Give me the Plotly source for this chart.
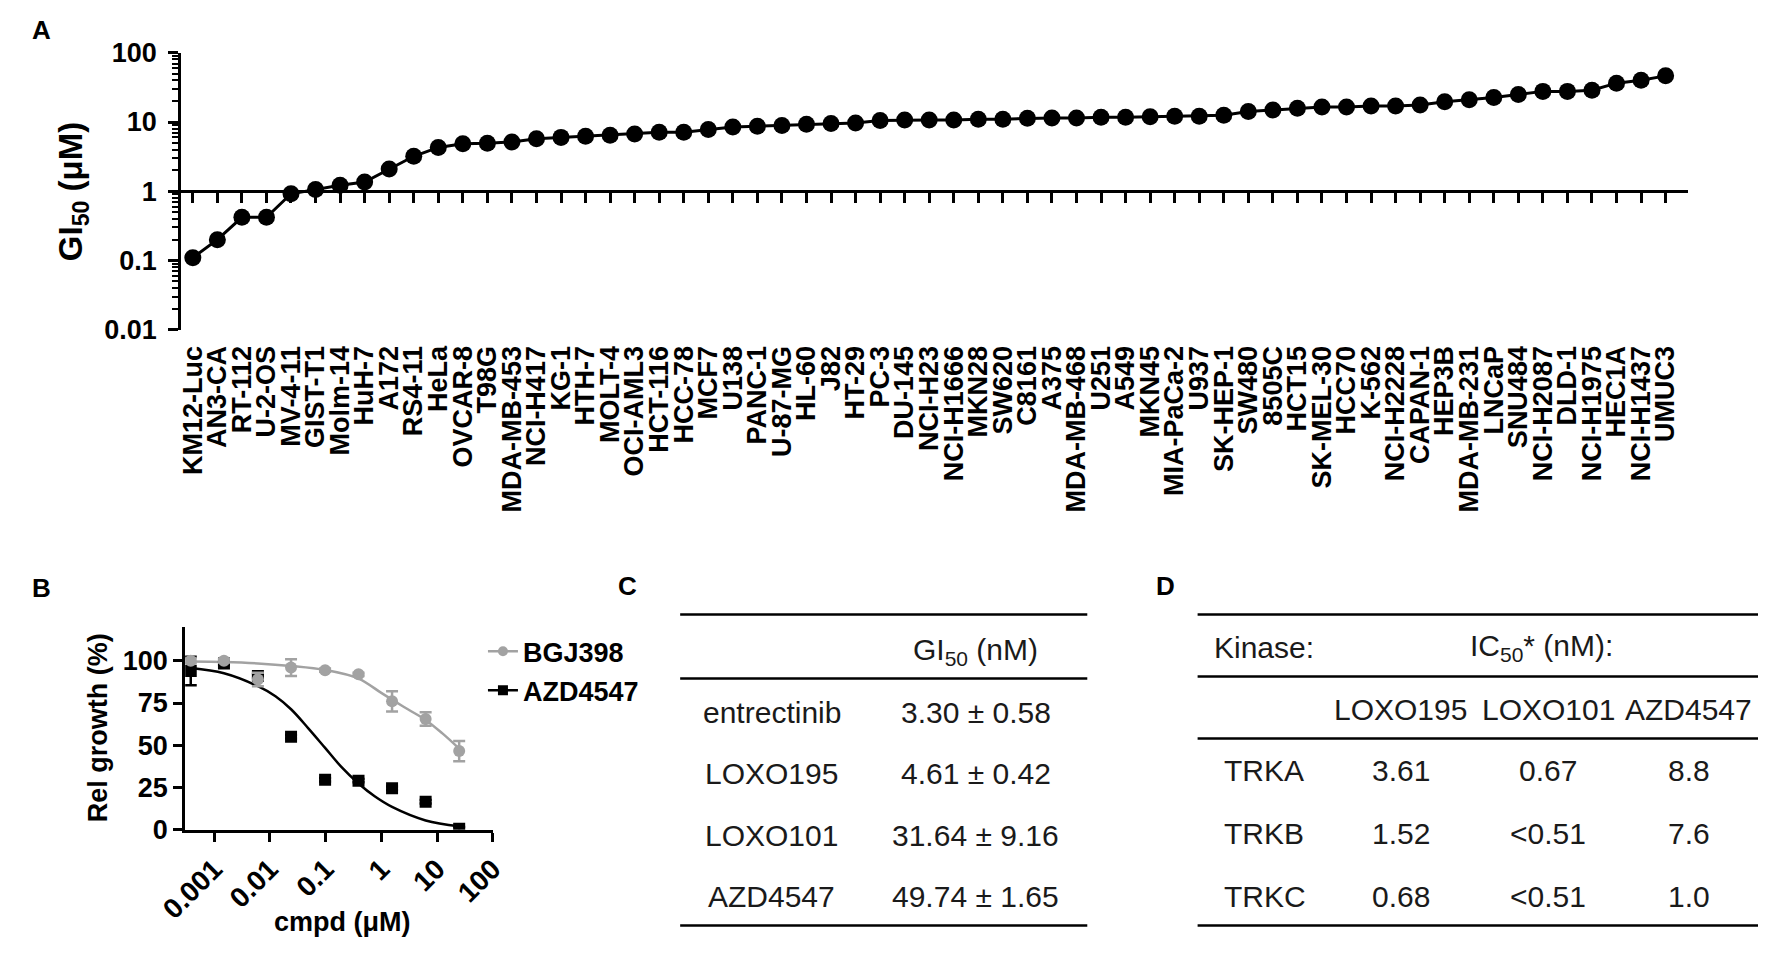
import plotly.graph_objects as go

W, H = 1772, 954

# ---------------- Panel A data ----------------
cell_lines = ["KM12-Luc", "AN3-CA", "RT-112", "U-2-OS", "MV-4-11", "GIST-T1", "Molm-14", "HuH-7",
              "A172", "RS4-11", "HeLa", "OVCAR-8", "T98G", "MDA-MB-453", "NCI-H417", "KG-1",
              "HTH-7", "MOLT-4", "OCI-AML3", "HCT-116", "HCC-78", "MCF7", "U138", "PANC-1",
              "U-87-MG", "HL-60", "J82", "HT-29", "PC-3", "DU-145", "NCI-H23", "NCI-H1666",
              "MKN28", "SW620", "C8161", "A375", "MDA-MB-468", "U251", "A549", "MKN45",
              "MIA-PaCa-2", "U937", "SK-HEP-1", "SW480", "8505C", "HCT15", "SK-MEL-30", "HCC70",
              "K-562", "NCI-H2228", "CAPAN-1", "HEP3B", "MDA-MB-231", "LNCaP", "SNU484",
              "NCI-H2087", "DLD-1", "NCI-H1975", "HEC1A", "NCI-H1437", "UMUC3"]
gi50_uM = [0.11, 0.20, 0.42, 0.42, 0.92, 1.06, 1.22, 1.36, 2.1, 3.2, 4.3, 4.85, 4.95, 5.15,
           5.75, 6.0, 6.25, 6.45, 6.7, 7.1, 7.1, 7.8, 8.5, 8.7, 8.9, 9.3, 9.5, 9.7, 10.5, 10.7,
           10.7, 10.7, 11.0, 11.0, 11.3, 11.4, 11.4, 11.7, 11.7, 11.9, 12.1, 12.1, 12.5, 14.2,
           14.9, 15.8, 16.5, 16.5, 17.1, 17.1, 17.6, 19.6, 21.0, 22.6, 24.9, 27.7, 27.7, 28.7,
           36.4, 40.2, 46.4]
a_ytickvals = [0.01, 0.1, 1, 10, 100]
a_yticktext = ["0.01", "0.1", "1", "10", "100"]

# ---------------- Panel B data ----------------
dose_uM = [0.00038, 0.0015, 0.0061, 0.024, 0.098, 0.39, 1.56, 6.25, 25]
bgj398_pct = [100, 100, 89, 96, 94.5, 92, 76, 65.5, 46.5]
bgj398_sem = [1.5, 1.0, 4.0, 5.0, 1.0, 1.0, 6.0, 4.0, 6.0]
azd4547_pct = [94, 98.5, 91, 55, 29.5, 29, 24.5, 16.5, 0.5]
azd4547_sem = [8.5, 1.0, 1.0, 1.0, 1.0, 1.0, 1.0, 1.0, 1.0]
bgj398_fit_dose = [0.00038, 0.0015, 0.0061, 0.024, 0.098, 0.39, 1.0, 1.56, 3.1, 6.25, 12.5, 25]
bgj398_fit_pct = [99.6, 99.3, 98.5, 97.0, 94.6, 89.5, 81.0, 77.0, 71.0, 65.0, 57.0, 48.0]
azd4547_fit_dose = [0.00038, 0.0015, 0.0061, 0.0126, 0.024, 0.049, 0.098, 0.19, 0.39, 0.76,
                    1.56, 6.25, 25]
azd4547_fit_pct = [95.8, 92.7, 85.0, 79.0, 71.3, 60.0, 48.4, 37.3, 27.3, 19.7, 13.4, 5.4, 1.9]
b_xtickvals = [0.001, 0.01, 0.1, 1, 10, 100]
b_xticktext = ["0.001", "0.01", "0.1", "1", "10", "100"]
b_ytickvals = [0, 25, 50, 75, 100]

# ---------------- Panel C data ----------------
c_compounds = ["entrectinib", "LOXO195", "LOXO101", "AZD4547"]
c_gi50_mean = [3.30, 4.61, 31.64, 49.74]
c_gi50_sem = [0.58, 0.42, 9.16, 1.65]

# ---------------- Panel D data ----------------
d_kinases = ["TRKA", "TRKB", "TRKC"]
d_compounds = ["LOXO195", "LOXO101", "AZD4547"]
d_loxo195 = ["3.61", "1.52", "0.68"]
d_loxo101 = ["0.67", "<0.51", "<0.51"]
d_azd4547 = ["8.8", "7.6", "1.0"]


def fx(p):
    return p / W


def fy(p):
    return 1 - p / H


FONT = "Liberation Sans, Arial, Helvetica, sans-serif"
GRAY = "#a2a2a2"
BOLD = dict(family=FONT, color="black", weight="bold")

fig = go.Figure()

# ---- Panel A ----
fig.add_trace(go.Scatter(x=cell_lines, y=gi50_uM, mode="lines+markers",
                         line=dict(color="black", width=3),
                         marker=dict(color="black", size=17),
                         showlegend=False, xaxis="x", yaxis="y"))

A_YRANGE = [-2, 2]
a_dom_y = [fy(325), fy(39)]
a_dom_x = [fx(157), fx(1700)]
a_x_pos = a_dom_y[0] + (0 - A_YRANGE[0]) / (A_YRANGE[1] - A_YRANGE[0]) * (a_dom_y[1] - a_dom_y[0])

# ---- Panel B ----
fig.add_trace(go.Scatter(x=azd4547_fit_dose, y=azd4547_fit_pct, mode="lines",
                         line=dict(color="black", width=2.5, shape="spline"),
                         showlegend=False, xaxis="x3", yaxis="y3"))
fig.add_trace(go.Scatter(x=bgj398_fit_dose, y=bgj398_fit_pct, mode="lines",
                         line=dict(color=GRAY, width=2.5, shape="spline"),
                         showlegend=False, xaxis="x3", yaxis="y3"))
fig.add_trace(go.Scatter(x=dose_uM, y=azd4547_pct, mode="markers",
                         marker=dict(color="black", size=12, symbol="square"),
                         error_y=dict(type="data", array=azd4547_sem, color="black",
                                      thickness=2.5, width=6),
                         showlegend=False, xaxis="x3", yaxis="y3"))
fig.add_trace(go.Scatter(x=dose_uM, y=bgj398_pct, mode="markers",
                         marker=dict(color=GRAY, size=12, symbol="circle"),
                         error_y=dict(type="data", array=bgj398_sem, color=GRAY,
                                      thickness=2.5, width=6),
                         showlegend=False, xaxis="x3", yaxis="y3"))
# legend entries
fig.add_trace(go.Scatter(x=[None], y=[None], mode="lines+markers", name="BGJ398",
                         line=dict(color=GRAY, width=2.5),
                         marker=dict(color=GRAY, size=10, symbol="circle"),
                         legendgroup="g1", xaxis="x3", yaxis="y3"))
fig.add_trace(go.Scatter(x=[None], y=[None], mode="lines+markers", name="AZD4547",
                         line=dict(color="black", width=2.5),
                         marker=dict(color="black", size=10, symbol="square"),
                         legendgroup="g2", xaxis="x3", yaxis="y3"))

b_dom_x = [fx(161), fx(476)]
b_dom_y = [fy(841), fy(632)]

fig.update_layout(
    width=W, height=H,
    margin=dict(l=0, r=0, t=0, b=0),
    paper_bgcolor="white", plot_bgcolor="white",
    font=dict(family=FONT, color="black"),
    xaxis=dict(domain=a_dom_x, anchor="free", position=a_x_pos, type="category",
               categoryorder="array", categoryarray=cell_lines,
               tickmode="array", tickvals=cell_lines, ticktext=cell_lines,
               range=[-0.47, 60.9], showline=True, linecolor="black", linewidth=3,
               ticks="outside", ticklen=10, tickwidth=3, tickcolor="black",
               tickangle=-90, tickfont=dict(size=27, **BOLD), ticklabelstandoff=132,
               showgrid=False, zeroline=False),
    yaxis=dict(domain=a_dom_y, anchor="x", type="log", range=A_YRANGE,
               tickmode="array", tickvals=a_ytickvals, ticktext=a_yticktext,
               showline=True, linecolor="black", linewidth=3,
               ticks="outside", ticklen=10, tickwidth=3, tickcolor="black",
               minor=dict(ticks="outside", ticklen=6, tickwidth=2, tickcolor="black",
                          dtick="D1", showgrid=False),
               ticklabelstandoff=6,
               tickfont=dict(size=27, **BOLD), showgrid=False, zeroline=False),
    xaxis3=dict(domain=b_dom_x, anchor="y3", type="log", range=[-3.52, 2.0],
                tickmode="array", tickvals=b_xtickvals, ticktext=b_xticktext,
                tickangle=-45, showline=True, linecolor="black", linewidth=3,
                ticks="outside", ticklen=9, tickwidth=3, tickcolor="black",
                tickfont=dict(size=28, **BOLD), showgrid=False, zeroline=False),
    yaxis3=dict(domain=b_dom_y, anchor="x3", range=[0, 120],
                tickmode="array", tickvals=b_ytickvals,
                showline=True, linecolor="black", linewidth=3,
                ticks="outside", ticklen=9, tickwidth=3, tickcolor="black",
                tickfont=dict(size=27, **BOLD), showgrid=False, zeroline=False),
    legend=dict(x=fx(466), y=fy(632), xanchor="left", yanchor="top",
                font=dict(size=27, **BOLD), tracegroupgap=1, itemwidth=30,
                bgcolor="rgba(0,0,0,0)"),
    showlegend=True,
)

ann = []


def txt(x, y, s, size, bold=False, xanchor="center", angle=0, color="black"):
    f = dict(family=FONT, size=size, color=color)
    if bold:
        f["weight"] = "bold"
    ann.append(dict(x=fx(x), y=fy(y), xref="paper", yref="paper", text=s, showarrow=False,
                    xanchor=xanchor, yanchor="middle", font=f, textangle=angle))


# panel letters
txt(2, 15, "A", 26, bold=True, xanchor="left")
txt(2, 592, "B", 26, bold=True, xanchor="left")
txt(602, 590, "C", 26, bold=True, xanchor="left")
txt(1153, 590, "D", 26, bold=True, xanchor="left")

# axis titles
txt(46, 182, "GI<sub>50</sub> (μM)", 33, bold=True, angle=-90)
txt(72, 736, "Rel growth (%)", 27, bold=True, angle=-90)
txt(322, 936, "cmpd (μM)", 27, bold=True)

shapes = []


def rule(x0, x1, y):
    shapes.append(dict(type="line", xref="paper", yref="paper", x0=fx(x0), x1=fx(x1),
                       y0=fy(y), y1=fy(y), line=dict(color="black", width=2.5)))


TCOL = "#1a1a1a"
TSIZE = 30

# ---- Table C ----
for yy in (619, 685, 940):
    rule(668, 1085, yy)
txt(971, 657, "GI<sub>50</sub> (nM)", TSIZE, color=TCOL)
c_row_y0, c_row_dy = 720, 63.5
for i, (name, m, s) in enumerate(zip(c_compounds, c_gi50_mean, c_gi50_sem)):
    y = c_row_y0 + i * c_row_dy
    txt(762, y, name, TSIZE, color=TCOL)
    txt(971, y, f"{m:.2f} ± {s:.2f}", TSIZE, color=TCOL)

# ---- Table D ----
for yy in (619, 683, 747, 940):
    rule(1198, 1772, yy)
txt(1213, 653, "Kinase:", TSIZE, xanchor="left", color=TCOL)
txt(1550, 653, "IC<sub>50</sub>* (nM):", TSIZE, color=TCOL)
d_col_x = [1406, 1557, 1701]
for cx, name in zip(d_col_x, d_compounds):
    txt(cx, 717, name, TSIZE, color=TCOL)
d_row_y0, d_row_dy = 780, 65
for i, k in enumerate(d_kinases):
    y = d_row_y0 + i * d_row_dy
    txt(1223, y, k, TSIZE, xanchor="left", color=TCOL)
    for cx, col in zip(d_col_x, (d_loxo195, d_loxo101, d_azd4547)):
        txt(cx, y, col[i], TSIZE, color=TCOL)

fig.update_layout(annotations=ann, shapes=shapes)

fig.write_html("out.html", config={"displayModeBar": False},
               post_script="document.body.style.margin='0';document.body.style.overflow='hidden';")
